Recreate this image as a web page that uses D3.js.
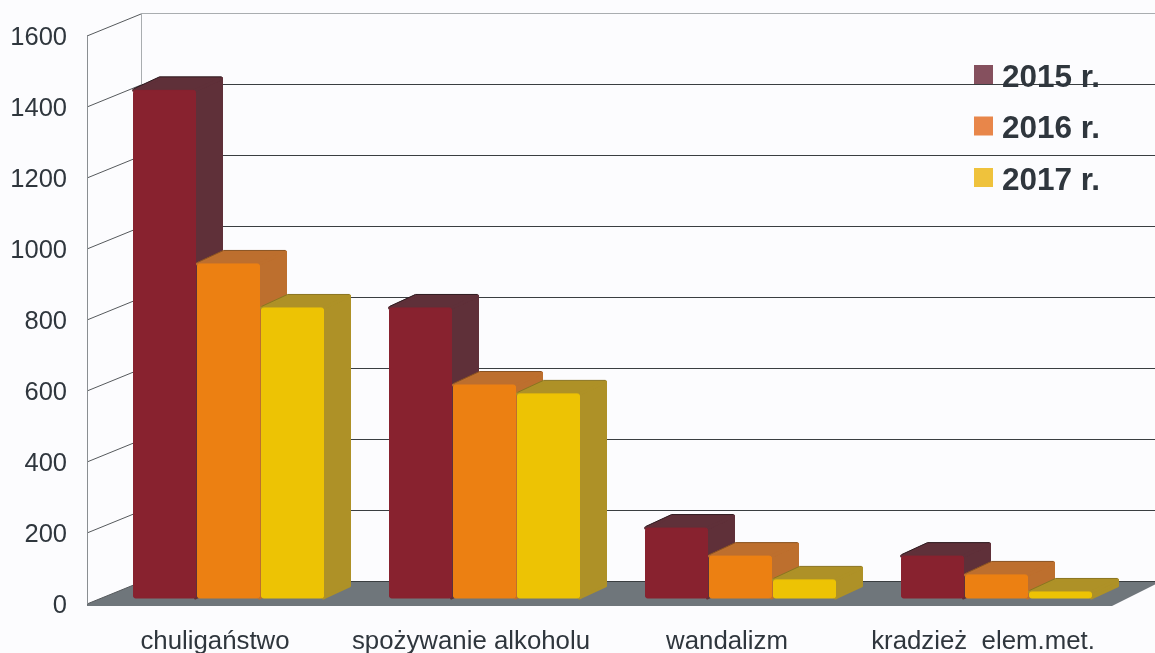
<!DOCTYPE html>
<html>
<head>
<meta charset="utf-8">
<script src="https://cdn.jsdelivr.net/npm/d3@7"></script>
<style>
  html, body { margin: 0; padding: 0; background: #fcfcfe; overflow: hidden; }
  svg { filter: blur(0.35px); }
  text { font-family: "Liberation Sans", Arial, sans-serif; fill: #2f363d; }
</style>
</head>
<body>
<div id="chart"></div>
<script>
var categories = ['chuligaństwo', 'spożywanie alkoholu', 'wandalizm', 'kradzież  elem.met.'];
var series = ['2015 r.', '2016 r.', '2017 r.'];
var values2015 = [1430, 817, 197, 118];
var values2016 = [941, 600, 118, 65];
var values2017 = [817, 575, 51, 17];
var yTicks = [0, 200, 400, 600, 800, 1000, 1200, 1400, 1600];

var frontColors = ['#88222f', '#ec8012', '#edc304'];
var sideColors = ['#5f3039', '#bd6f2e', '#ae9127'];
var edgeColors = ['#2e1a1f', '#8a5220', '#8a7420'];
var swatchColors = ['#85505e', '#e8864a', '#efc23c'];

var width = 1155, height = 653;
var wallDx = 54, wallDy = 22;   // depth of the walls
var barDx = 26, barDy = 12;     // depth of a bar
var barInset = 6;               // bars stand a little behind the front edge

var svg = d3.select('#chart').append('svg')
  .attr('width', width)
  .attr('height', height);

var y = d3.scaleLinear().domain([0, 1600]).range([604, 36]);
var x = d3.scaleBand().domain(categories).range([133, 133 + 256 * 4]);
var xSeries = d3.scaleBand().domain(series).range([0, 192]);

var x0 = 87;

// floor
svg.append('polygon')
  .attr('points', [[x0, y(0)], [x0 + wallDx, y(0) - wallDy], [1160, y(0) - wallDy], [1112, y(0) + 2], [x0, y(0) + 2]].join(' '))
  .attr('fill', '#6f767b');

// back wall grid, snapped to the pixel so it stays thin
svg.append('g').selectAll('line')
  .data(yTicks)
  .enter().append('line')
    .attr('x1', x0 + wallDx)
    .attr('x2', width)
    .attr('y1', function(d) { return Math.round(y(d) - wallDy) - 0.5; })
    .attr('y2', function(d) { return Math.round(y(d) - wallDy) - 0.5; })
    .attr('stroke', function(d) { return d === 1600 ? '#a9adb0' : '#3a3e41'; })
    .attr('stroke-width', 1);

// side wall grid
svg.append('g').selectAll('line')
  .data(yTicks)
  .enter().append('line')
    .attr('x1', x0)
    .attr('x2', x0 + wallDx)
    .attr('y1', function(d) { return y(d); })
    .attr('y2', function(d) { return y(d) - wallDy; })
    .attr('stroke', '#55595c')
    .attr('stroke-width', 1);

svg.append('line')
  .attr('x1', x0 + 0.5).attr('x2', x0 + 0.5)
  .attr('y1', y(1600)).attr('y2', y(0))
  .attr('stroke', '#8a8e92');
svg.append('line')
  .attr('x1', x0 + wallDx + 0.5).attr('x2', x0 + wallDx + 0.5)
  .attr('y1', y(1600) - wallDy).attr('y2', y(0) - wallDy)
  .attr('stroke', '#a9adb0');

// bars
var allValues = [values2015, values2016, values2017];
var barWidth = xSeries.bandwidth() - 2;

categories.forEach(function(cat, c) {
  series.forEach(function(s, i) {
    var v = allValues[i][c];
    var left = x(cat) + xSeries(s) + 0.5;
    var right = left + barWidth;
    var top = y(v) - barInset;
    var bottom = y(0) - barInset;
    var g = svg.append('g')
      .attr('stroke-linejoin', 'round')
      .attr('stroke-width', 3);

    // side and top share one tone in the reference
    g.append('polygon')
      .attr('points', [[right, top], [right + barDx, top - barDy], [right + barDx, bottom - barDy], [right, bottom]].join(' '))
      .attr('fill', sideColors[i])
      .attr('stroke', sideColors[i]);
    g.append('polygon')
      .attr('points', [[left, top], [left + barDx, top - barDy], [right + barDx, top - barDy], [right, top]].join(' '))
      .attr('fill', sideColors[i])
      .attr('stroke', sideColors[i]);
    g.append('path')
      .attr('d', d3.line()([[left, top - 1.5], [left + barDx, top - barDy - 1.5], [right + barDx, top - barDy - 1.5]]))
      .attr('fill', 'none')
      .attr('stroke', edgeColors[i])
      .attr('stroke-width', 1);
    g.append('rect')
      .attr('x', left)
      .attr('y', top)
      .attr('width', barWidth)
      .attr('height', bottom - top)
      .attr('rx', 2)
      .attr('fill', frontColors[i])
      .attr('stroke', frontColors[i])
      .attr('stroke-width', 1);
  });
});

// axes
var yAxis = svg.append('g')
  .attr('transform', 'translate(' + x0 + ',0)')
  .call(d3.axisLeft(y).tickValues(yTicks).tickFormat(d3.format('d')).tickSize(0).tickPadding(20));
yAxis.select('.domain').remove();
yAxis.attr('font-family', null);
yAxis.selectAll('text').style('font-size', '25.5px').attr('dy', '0.33em');

var xAxis = svg.append('g')
  .attr('transform', 'translate(-46,624)')
  .call(d3.axisBottom(x).tickSize(0).tickPadding(0));
xAxis.select('.domain').remove();
xAxis.attr('font-family', null);
xAxis.selectAll('text')
  .style('font-size', '25.8px')
  .style('white-space', 'pre')
  .attr('y', 25)
  .attr('dy', 0);

// legend
var legend = svg.append('g').selectAll('g')
  .data(series)
  .enter().append('g')
    .attr('transform', function(d, i) { return 'translate(974,' + (65 + i * 51.5) + ')'; });
legend.append('rect')
  .attr('width', 19)
  .attr('height', 19)
  .attr('fill', function(d, i) { return swatchColors[i]; });
legend.append('text')
  .attr('x', 28)
  .attr('y', 21.5)
  .style('font-size', '31.5px')
  .style('font-weight', 'bold')
  .text(function(d) { return d; });
</script>
</body>
</html>
